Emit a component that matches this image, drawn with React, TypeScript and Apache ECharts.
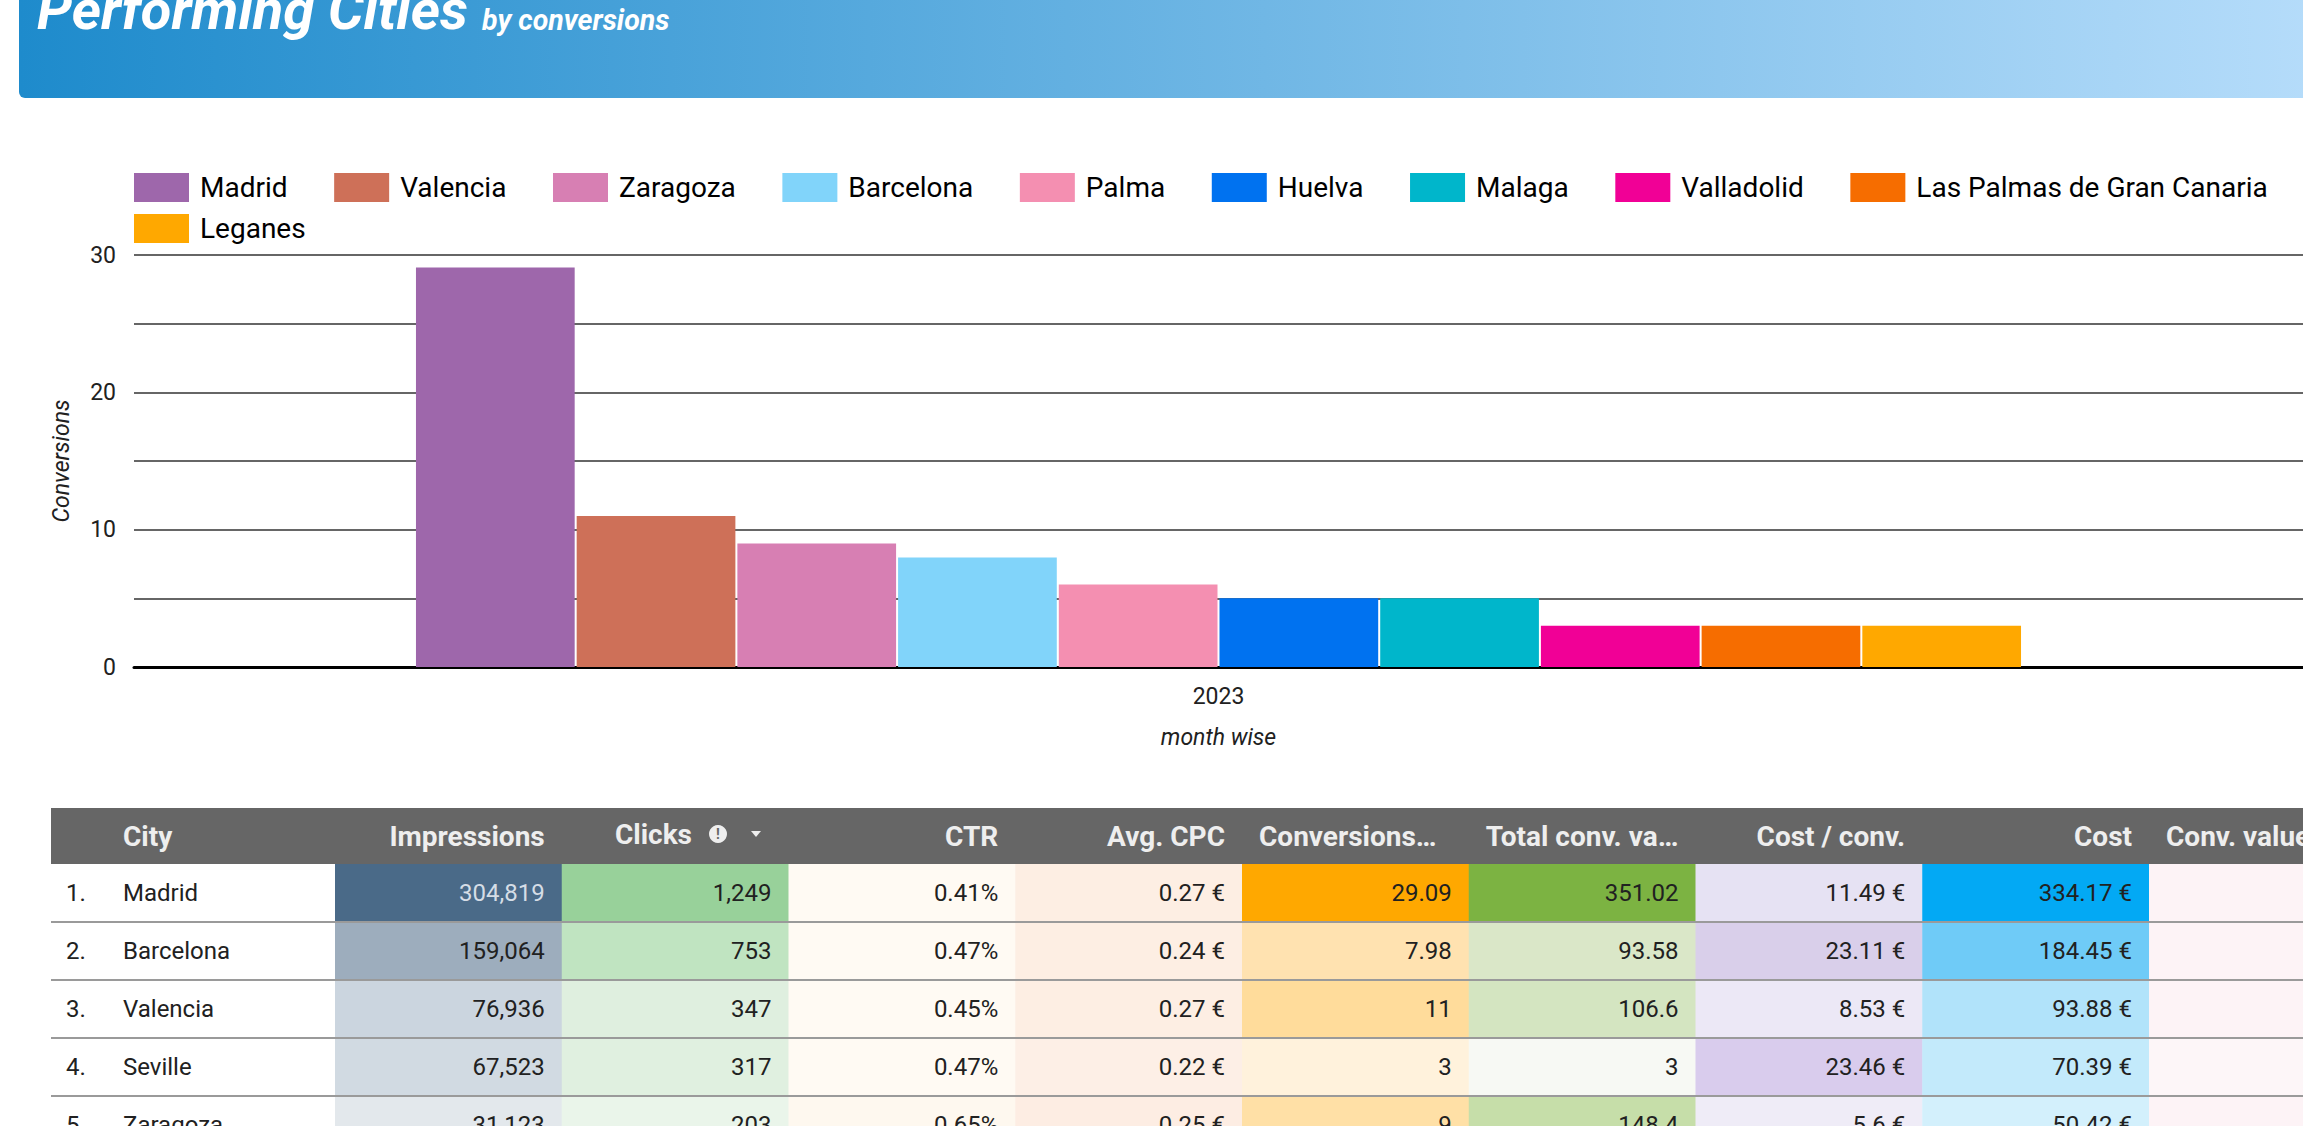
import React, { useEffect, useRef } from "react";
import * as echarts from "echarts";

// ---------- data ----------
const TITLE = "Performing Cities";
const SUBTITLE = "by conversions";
const years = ["2023"];
const chartCities = ["Madrid", "Valencia", "Zaragoza", "Barcelona", "Palma", "Huelva", "Malaga", "Valladolid", "Las Palmas de Gran Canaria", "Leganes"];
const chartConversions = [29.09, 11, 9, 7.98, 6, 5, 5, 3, 3, 3];
const yAxisName = "Conversions";
const xAxisName = "month wise";

const tableHeaders = ["City", "Impressions", "Clicks", "CTR", "Avg. CPC", "Conversions…", "Total conv. va…", "Cost / conv.", "Cost", "Conv. value…"];
const tableCities = ["Madrid", "Barcelona", "Valencia", "Seville", "Zaragoza"];
const impressions = [304819, 159064, 76936, 67523, 31123];
const clicks = [1249, 753, 347, 317, 203];
const ctr = [0.41, 0.47, 0.45, 0.47, 0.65];
const avgCpc = [0.27, 0.24, 0.27, 0.22, 0.25];
const conversions = [29.09, 7.98, 11, 3, 9];
const totalConvValue = [351.02, 93.58, 106.6, 3, 148.4];
const costPerConv = [11.49, 23.11, 8.53, 23.46, 5.6];
const cost = [334.17, 184.45, 93.88, 70.39, 50.42];

// ---------- styles ----------
const barColors = ["#9e67ab", "#ce7058", "#d77fb3", "#81d4fa", "#f48fb1", "#0072f0", "#00b6cb", "#f10096", "#f66d00", "#ffa800"];
const cellColors = [
  ["#4a6a88", "#98d19a", "#fffaf3", "#fdeee3", "#ffa800", "#7cb342", "#e6e2f3", "#03a9f4", "#fdf3f6"],
  ["#9dadbd", "#c0e4c1", "#fffaf3", "#fdeee3", "#ffe2b0", "#dae7c8", "#d9cfea", "#6fcbf7", "#fdf3f6"],
  ["#cbd5df", "#dfefdf", "#fffaf3", "#fdeee3", "#ffdc9b", "#d4e5c1", "#ece8f6", "#b1e3fa", "#fdf3f6"],
  ["#d1dae2", "#e0f0e0", "#fffaf3", "#fdefe6", "#fff2dc", "#f7f9f4", "#d9cced", "#c3eafb", "#fdf6f8"],
  ["#e3e8ec", "#eaf5ea", "#fef8ef", "#fdede3", "#ffe0a6", "#c6dea9", "#efecf7", "#d3f0fc", "#fdf3f6"],
];
const FONT = "Roboto";

const fmt2 = (v: number) => String(Number(v.toFixed(2)));
const fmtInt = (v: number) => v.toLocaleString("en-US");
const fmtPct = (v: number) => v.toFixed(2) + "%";
const fmtEur = (v: number) => fmt2(v) + " €";

function txt(x: number, y: number, text: string, o: any = {}) {
  const align = o.align || "left";
  const va = o.va || "middle";
  return {
    type: "text",
    x,
    y,
    z: o.z ?? 20,
    silent: true,
    style: {
      text,
      fill: o.fill || "#212121",
      fontSize: o.size || 24,
      fontFamily: FONT,
      fontWeight: o.weight || "normal",
      fontStyle: o.italic ? "italic" : "normal",
      align,
      verticalAlign: va,
      textAlign: align,
      textVerticalAlign: va,
    },
  };
}

function buildGraphics() {
  const g: any[] = [];
  const W = 2303;
  // banner
  g.push({
    type: "rect",
    z: 10,
    silent: true,
    shape: { x: 19, y: -30, width: W - 19 + 10, height: 128, r: [0, 0, 0, 6] },
    style: {
      fill: new echarts.graphic.LinearGradient(0, 0, 1, 0, [
        { offset: 0, color: "#1e8bcc" },
        { offset: 1, color: "#b5dcfa" },
      ]),
    },
  });
  g.push(txt(37, 10, TITLE, { size: 56, weight: "bold", italic: true, fill: "#ffffff" }));
  g.push(txt(482, 20, SUBTITLE, { size: 28.5, weight: "bold", italic: true, fill: "#ffffff" }));

  // table
  const left = 51;
  const headTop = 808;
  const headH = 56;
  const rowH = 58;
  const firstCol = 335;
  const colW = 226.75;
  g.push({ type: "rect", z: 10, silent: true, shape: { x: left, y: headTop, width: W - left + 10, height: headH }, style: { fill: "#666666" } });
  const hy = headTop + headH / 2;
  const hOpt = { size: 28, weight: "bold", fill: "#eeeeee" };
  g.push(txt(123, hy, tableHeaders[0], hOpt));
  const truncated = [5, 6, 9];
  for (let c = 1; c < tableHeaders.length; c++) {
    const x0 = firstCol + (c - 1) * colW;
    const x1 = x0 + colW;
    if (c === 2) {
      g.push(txt(692, hy - 2, tableHeaders[c], { ...hOpt, align: "right" }));
      g.push({ type: "circle", z: 20, silent: true, shape: { cx: 718, cy: hy - 2, r: 9 }, style: { fill: "#eeeeee" } });
      g.push(txt(718, hy - 2, "!", { size: 14, weight: "bold", fill: "#666666", align: "center" }));
      g.push({ type: "polygon", z: 20, silent: true, shape: { points: [[751, hy - 5], [761, hy - 5], [756, hy + 1]] }, style: { fill: "#eeeeee" } });
    } else if (truncated.includes(c)) {
      g.push(txt(x0 + 17, hy, tableHeaders[c], hOpt));
    } else {
      g.push(txt(x1 - 17, hy, tableHeaders[c], { ...hOpt, align: "right" }));
    }
  }
  const cols: string[][] = [
    impressions.map(fmtInt),
    clicks.map(fmtInt),
    ctr.map(fmtPct),
    avgCpc.map(fmtEur),
    conversions.map(fmt2),
    totalConvValue.map(fmt2),
    costPerConv.map(fmtEur),
    cost.map(fmtEur),
    tableCities.map(() => ""),
  ];
  tableCities.forEach((city, r) => {
    const top = headTop + headH + r * rowH;
    const cy = top + rowH / 2;
    g.push(txt(66, cy, `${r + 1}.`));
    g.push(txt(123, cy, city));
    cols.forEach((vals, c) => {
      const x0 = firstCol + c * colW;
      g.push({ type: "rect", z: 10, silent: true, shape: { x: x0, y: top, width: colW + 0.5, height: rowH }, style: { fill: cellColors[r][c] } });
      if (vals[r]) {
        g.push(txt(x0 + colW - 17, cy, vals[r], { align: "right", fill: r === 0 && c === 0 ? "#d5dde6" : "#212121" }));
      }
    });
    if (r > 0) {
      g.push({ type: "line", z: 15, silent: true, shape: { x1: left, y1: top, x2: W + 10, y2: top }, style: { stroke: "#9a9a9a", lineWidth: 2 } });
    }
  });
  return g;
}

export default function App() {
  const ref = useRef<HTMLDivElement>(null);
  useEffect(() => {
    document.body.style.margin = "0";
    document.body.style.overflow = "hidden";
    const chart = echarts.init(ref.current!, null, { renderer: "svg" });
    const legendBase = {
      left: 134,
      padding: 0,
      itemWidth: 55,
      itemHeight: 29,
      itemGap: 46.6,
      icon: "rect",
      selectedMode: false,
      textStyle: { fontSize: 28, fontFamily: FONT, color: "#000000", padding: [0, 0, 0, 6] },
    };
    chart.setOption({
      animation: false,
      textStyle: { fontFamily: FONT },
      color: barColors,
      legend: [
        { ...legendBase, top: 173, data: chartCities.slice(0, 9) },
        { ...legendBase, top: 214, data: chartCities.slice(9) },
      ],
      grid: { left: 134, right: 0, top: 255, height: 412, containLabel: false },
      xAxis: {
        type: "category",
        data: years,
        axisLine: { lineStyle: { color: "#000000", width: 3 } },
        axisTick: { show: false },
        axisLabel: { fontSize: 23, color: "#212121", margin: 18 },
        name: xAxisName,
        nameLocation: "middle",
        nameGap: 59,
        nameTextStyle: { fontSize: 23, fontStyle: "italic", color: "#212121" },
      },
      yAxis: {
        type: "value",
        min: 0,
        max: 30,
        interval: 5,
        axisLine: { show: false },
        axisTick: { show: false },
        splitLine: { lineStyle: { color: "#666666", width: 2 } },
        axisLabel: { fontSize: 23, color: "#212121", margin: 18, formatter: (v: number) => (v % 10 === 0 ? String(v) : "") },
        name: yAxisName,
        nameLocation: "middle",
        nameGap: 61,
        nameTextStyle: { fontSize: 23, fontStyle: "italic", color: "#212121" },
      },
      series: chartCities.map((name, i) => ({
        name,
        type: "bar",
        data: [chartConversions[i]],
        barCategoryGap: "26%",
        barGap: "1.26%",
        itemStyle: { color: barColors[i] },
      })),
      graphic: { elements: buildGraphics() },
    });
    return () => chart.dispose();
  }, []);
  return <div ref={ref} style={{ width: 2303, height: 1126 }} />;
}
